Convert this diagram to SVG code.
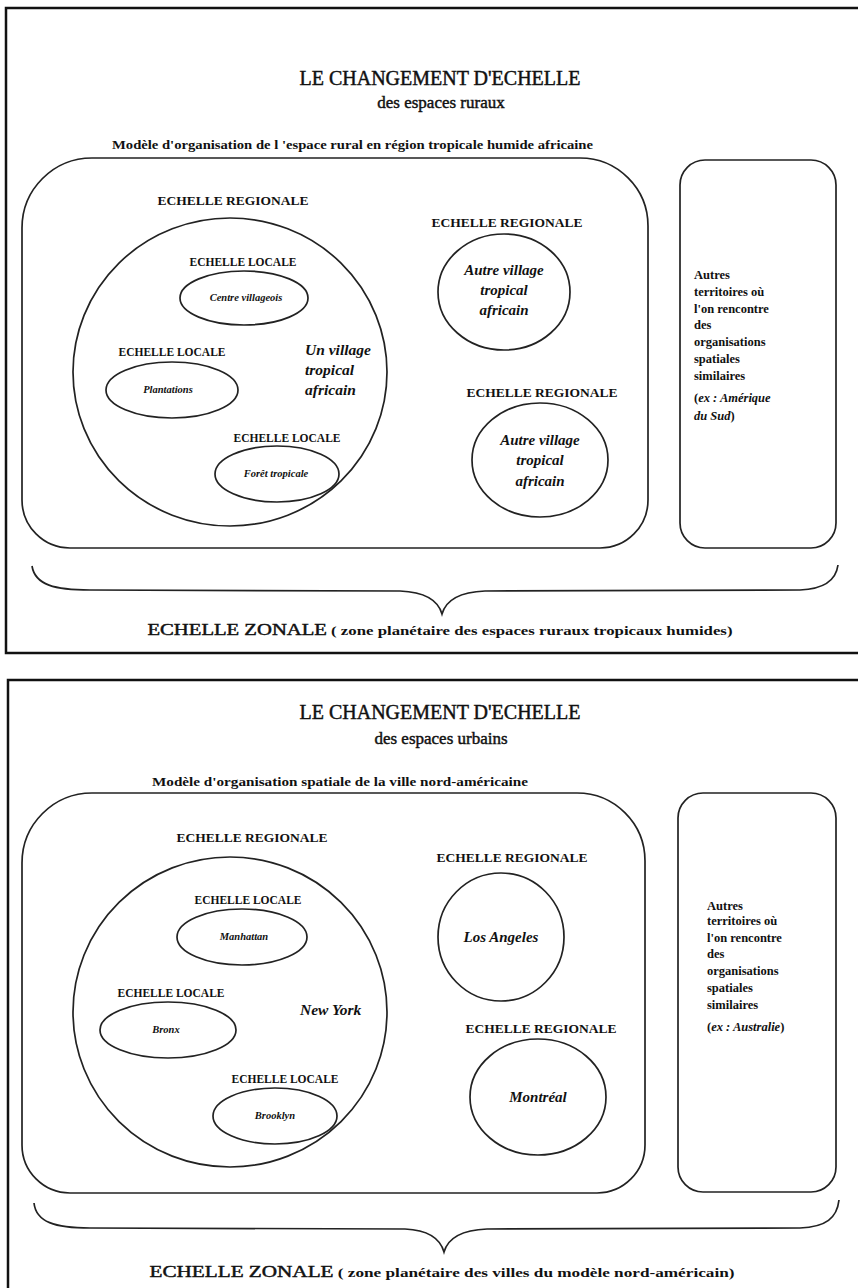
<svg xmlns="http://www.w3.org/2000/svg" width="858" height="1288" viewBox="0 0 858 1288">
<defs>
<style>
.frame{fill:none;stroke:#111;stroke-width:2.5}
.ln{fill:none;stroke:#222;stroke-width:1.7}
.t{font-family:"Liberation Serif",serif;fill:#111}
.heavy{stroke:#111;stroke-width:0.45}
.title{font-size:20px;text-anchor:middle}
.sub{font-size:17px;text-anchor:middle}
.model{font-size:13px;font-weight:bold}
.reg{font-size:13.5px;font-weight:bold;text-anchor:middle}
.loc{font-size:11.5px;font-weight:bold;text-anchor:middle}
.small{font-size:10.5px;font-weight:bold;font-style:italic;text-anchor:middle}
.vil{font-size:15.5px;font-weight:bold;font-style:italic}
.vilc{font-size:15px;font-weight:bold;font-style:italic;text-anchor:middle}
.side{font-size:12.5px;font-weight:bold}
.zonb{font-size:13px;font-weight:bold}
</style>
</defs>
<rect width="858" height="1288" fill="#fff"/>

<!-- TOP PANEL -->
<g id="panel-rural">
<rect class="frame" x="6" y="8" width="860" height="645"/>
<text class="t title heavy" x="440" y="85">LE CHANGEMENT D'ECHELLE</text>
<text class="t sub heavy" x="441" y="108">des espaces ruraux</text>
<text class="t model" x="112" y="149" textLength="481" lengthAdjust="spacingAndGlyphs">Modèle  d'organisation de l 'espace rural en région tropicale humide africaine</text>
</g>

<g id="rural-regional-box">
<path class="ln" d="M92 158 H580 A68 68 0 0 1 648 226 V500 A48 48 0 0 1 600 548 H70 A48 48 0 0 1 22 500 V228 A70 70 0 0 1 92 158 Z"/>
</g>
<g id="rural-other-box">
<rect class="ln" x="680" y="160" width="156" height="388" rx="25"/>
<text class="t side" x="694" y="279">Autres</text>
<text class="t side" x="694" y="296">territoires  où</text>
<text class="t side" x="694" y="313">l'on rencontre</text>
<text class="t side" x="694" y="329">des</text>
<text class="t side" x="694" y="346">organisations</text>
<text class="t side" x="694" y="363">spatiales</text>
<text class="t side" x="694" y="380">similaires</text>
<text class="t side" x="694" y="402">(<tspan font-style="italic">ex : Amérique</tspan></text>
<text class="t side" x="694" y="420"><tspan font-style="italic">du Sud</tspan>)</text>
</g>

<g id="rural-village">
<text class="t reg" x="233" y="205">ECHELLE REGIONALE</text>
<ellipse class="ln" cx="230" cy="372" rx="157" ry="154"/>
<text class="t vil" x="305" y="355">Un village</text>
<text class="t vil" x="305" y="375">tropical</text>
<text class="t vil" x="305" y="395">africain</text>
</g>
<g id="rural-centre">
<text class="t loc" x="243" y="266">ECHELLE LOCALE</text>
<ellipse class="ln" cx="244" cy="298" rx="64" ry="27"/>
<text class="t small" x="246" y="301">Centre villageois</text>
</g>
<g id="rural-plantations">
<text class="t loc" x="172" y="356">ECHELLE LOCALE</text>
<ellipse class="ln" cx="172" cy="390" rx="66" ry="28"/>
<text class="t small" x="168" y="393">Plantations</text>
</g>
<g id="rural-foret">
<text class="t loc" x="287" y="442">ECHELLE LOCALE</text>
<ellipse class="ln" cx="277" cy="474" rx="62" ry="28"/>
<text class="t small" x="276" y="477">Forêt tropicale</text>
</g>
<g id="rural-autre1">
<text class="t reg" x="507" y="227">ECHELLE REGIONALE</text>
<ellipse class="ln" cx="504" cy="292" rx="66" ry="58"/>
<text class="t vilc" x="504" y="275">Autre village</text>
<text class="t vilc" x="504" y="295">tropical</text>
<text class="t vilc" x="504" y="315">africain</text>
</g>
<g id="rural-autre2">
<text class="t reg" x="542" y="397">ECHELLE REGIONALE</text>
<ellipse class="ln" cx="540" cy="460" rx="68" ry="57"/>
<text class="t vilc" x="540" y="445">Autre village</text>
<text class="t vilc" x="540" y="465">tropical</text>
<text class="t vilc" x="540" y="486">africain</text>
</g>

<g id="connectors-rural">
<path class="ln" d="M32 566 C35 585 55 590 90 590 L400 591 C425 592 438 600 442 614 C446 600 460 592 485 591 L800 590 C825 589 836 580 838 565"/>
</g>
<g id="rural-zonale">
<text class="t" x="440" y="635" text-anchor="middle" textLength="585" lengthAdjust="spacingAndGlyphs"><tspan font-size="16px" class="heavy">ECHELLE ZONALE</tspan><tspan class="zonb"> ( zone  planétaire des espaces ruraux tropicaux humides)</tspan></text>
</g>

<!-- BOTTOM PANEL -->
<g id="panel-urbain">
<rect class="frame" x="8" y="680" width="860" height="640"/>
<text class="t title heavy" x="440" y="719">LE CHANGEMENT D'ECHELLE</text>
<text class="t sub heavy" x="441" y="744">des espaces urbains</text>
<text class="t model" x="152" y="786" textLength="376" lengthAdjust="spacingAndGlyphs">Modèle  d'organisation spatiale de la ville nord-américaine</text>
</g>

<g id="urban-regional-box">
<path class="ln" d="M92 793 H577 A68 68 0 0 1 645 861 V1145 A48 48 0 0 1 597 1193 H70 A48 48 0 0 1 22 1145 V863 A70 70 0 0 1 92 793 Z"/>
</g>
<g id="urban-other-box">
<rect class="ln" x="678" y="793" width="158" height="399" rx="25"/>
<text class="t side" x="707" y="910">Autres</text>
<text class="t side" x="707" y="925">territoires  où</text>
<text class="t side" x="707" y="942">l'on rencontre</text>
<text class="t side" x="707" y="958">des</text>
<text class="t side" x="707" y="975">organisations</text>
<text class="t side" x="707" y="992">spatiales</text>
<text class="t side" x="707" y="1009">similaires</text>
<text class="t side" x="707" y="1031">(<tspan font-style="italic">ex : Australie</tspan>)</text>
</g>

<g id="urban-newyork">
<text class="t reg" x="252" y="842">ECHELLE REGIONALE</text>
<ellipse class="ln" cx="230" cy="1012" rx="157" ry="155"/>
<text class="t vil" x="300" y="1015">New York</text>
</g>
<g id="urban-manhattan">
<text class="t loc" x="248" y="904">ECHELLE LOCALE</text>
<ellipse class="ln" cx="242" cy="937" rx="65" ry="28"/>
<text class="t small" x="244" y="940">Manhattan</text>
</g>
<g id="urban-bronx">
<text class="t loc" x="171" y="997">ECHELLE LOCALE</text>
<ellipse class="ln" cx="168" cy="1030" rx="68" ry="28"/>
<text class="t small" x="166" y="1033">Bronx</text>
</g>
<g id="urban-brooklyn">
<text class="t loc" x="285" y="1083">ECHELLE LOCALE</text>
<ellipse class="ln" cx="275" cy="1116" rx="62" ry="28"/>
<text class="t small" x="275" y="1119">Brooklyn</text>
</g>
<g id="urban-la">
<text class="t reg" x="512" y="862">ECHELLE REGIONALE</text>
<ellipse class="ln" cx="501" cy="937" rx="63" ry="64"/>
<text class="t vilc" x="501" y="942">Los Angeles</text>
</g>
<g id="urban-montreal">
<text class="t reg" x="541" y="1033">ECHELLE REGIONALE</text>
<ellipse class="ln" cx="538" cy="1097" rx="68" ry="58"/>
<text class="t vilc" x="538" y="1102">Montréal</text>
</g>

<g id="connectors-urban">
<path class="ln" d="M34 1203 C36 1222 55 1228 90 1228 L405 1229 C428 1230 440 1238 444 1252 C448 1238 462 1230 487 1229 L800 1228 C826 1227 837 1218 839 1200"/>
</g>
<g id="urban-zonale">
<text class="t" x="442" y="1277" text-anchor="middle" textLength="585" lengthAdjust="spacingAndGlyphs"><tspan font-size="16px" class="heavy">ECHELLE ZONALE</tspan><tspan class="zonb"> ( zone  planétaire des villes du modèle nord-américain)</tspan></text>
</g>
</svg>
